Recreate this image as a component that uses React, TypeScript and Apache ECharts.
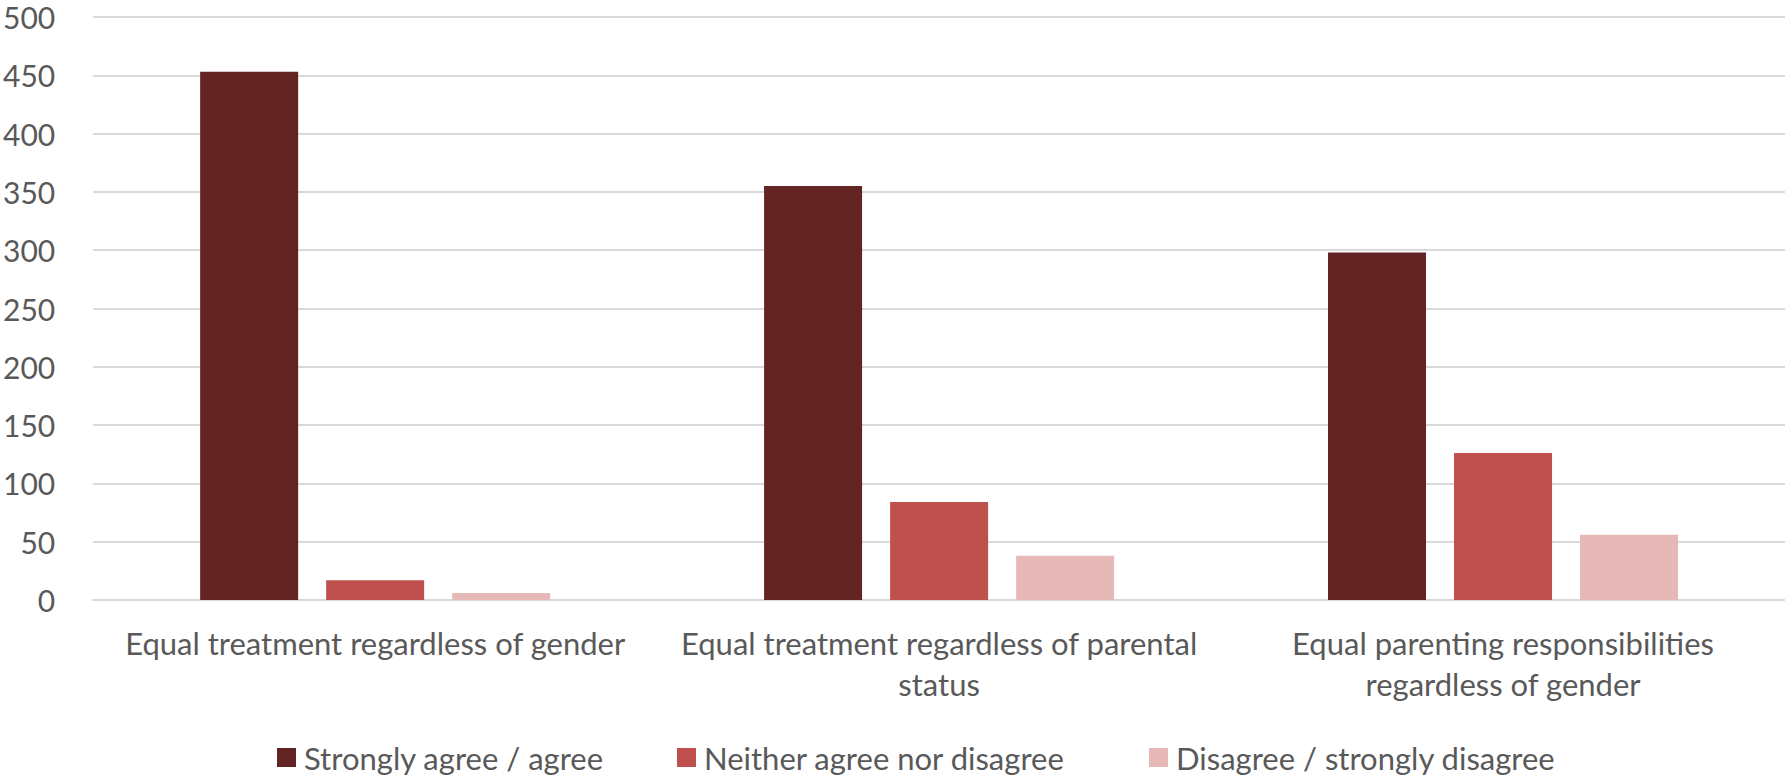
import React, { useEffect, useRef } from "react";
import * as echarts from "echarts";

const categories = [
  "Equal treatment regardless of gender",
  "Equal treatment regardless of parental\nstatus",
  "Equal parenting responsibilities\nregardless of gender",
];
const seriesNames = [
  "Strongly agree / agree",
  "Neither agree nor disagree",
  "Disagree / strongly disagree",
];
const stronglyAgree = [453, 355, 298];
const neither = [17, 84, 126];
const disagree = [6, 38, 56];
const colors = ["#632523", "#C0504D", "#E6B9B8"];
const legendLefts = [272, 672, 1144];

const FONT = "Lato, 'Open Sans', sans-serif";
const TEXT = "#595959";

export default function App() {
  const ref = useRef<HTMLDivElement>(null);
  useEffect(() => {
    document.body.style.margin = "0";
    document.body.style.overflow = "hidden";
    const chart = echarts.init(ref.current!, null, { renderer: "svg" });
    const values = [stronglyAgree, neither, disagree];
    chart.setOption({
      animation: false,
      textStyle: { fontFamily: FONT, color: TEXT },
      grid: { left: 93, right: 0, top: 17, bottom: 175, containLabel: false },
      legend: seriesNames.map((name, i) => ({
        left: legendLefts[i],
        top: 737,
        itemWidth: 19,
        itemHeight: 19,
        icon: "rect",
        textStyle: { fontFamily: FONT, fontSize: 31, color: TEXT, padding: [0, 0, 0, 3] },
        data: [name],
      })),
      xAxis: {
        type: "category",
        data: categories,
        axisTick: { show: false },
        axisLine: { lineStyle: { color: "#D9D9D9", width: 2 } },
        axisLabel: {
          fontFamily: FONT,
          fontSize: 31,
          color: TEXT,
          margin: 22,
          lineHeight: 41,
          interval: 0,
        },
      },
      yAxis: {
        type: "value",
        min: 0,
        max: 500,
        interval: 50,
        axisLine: { show: false },
        axisTick: { show: false },
        splitLine: { lineStyle: { color: "#D9D9D9", width: 2 } },
        axisLabel: { fontFamily: FONT, fontSize: 30, color: TEXT, margin: 38 },
      },
      series: seriesNames.map((name, i) => ({
        name,
        type: "bar",
        data: values[i],
        barWidth: 98,
        barGap: "28.6%",
        itemStyle: { color: colors[i] },
      })),
    });
    return () => chart.dispose();
  }, []);
  return <div ref={ref} style={{ width: 1785, height: 775 }} />;
}
